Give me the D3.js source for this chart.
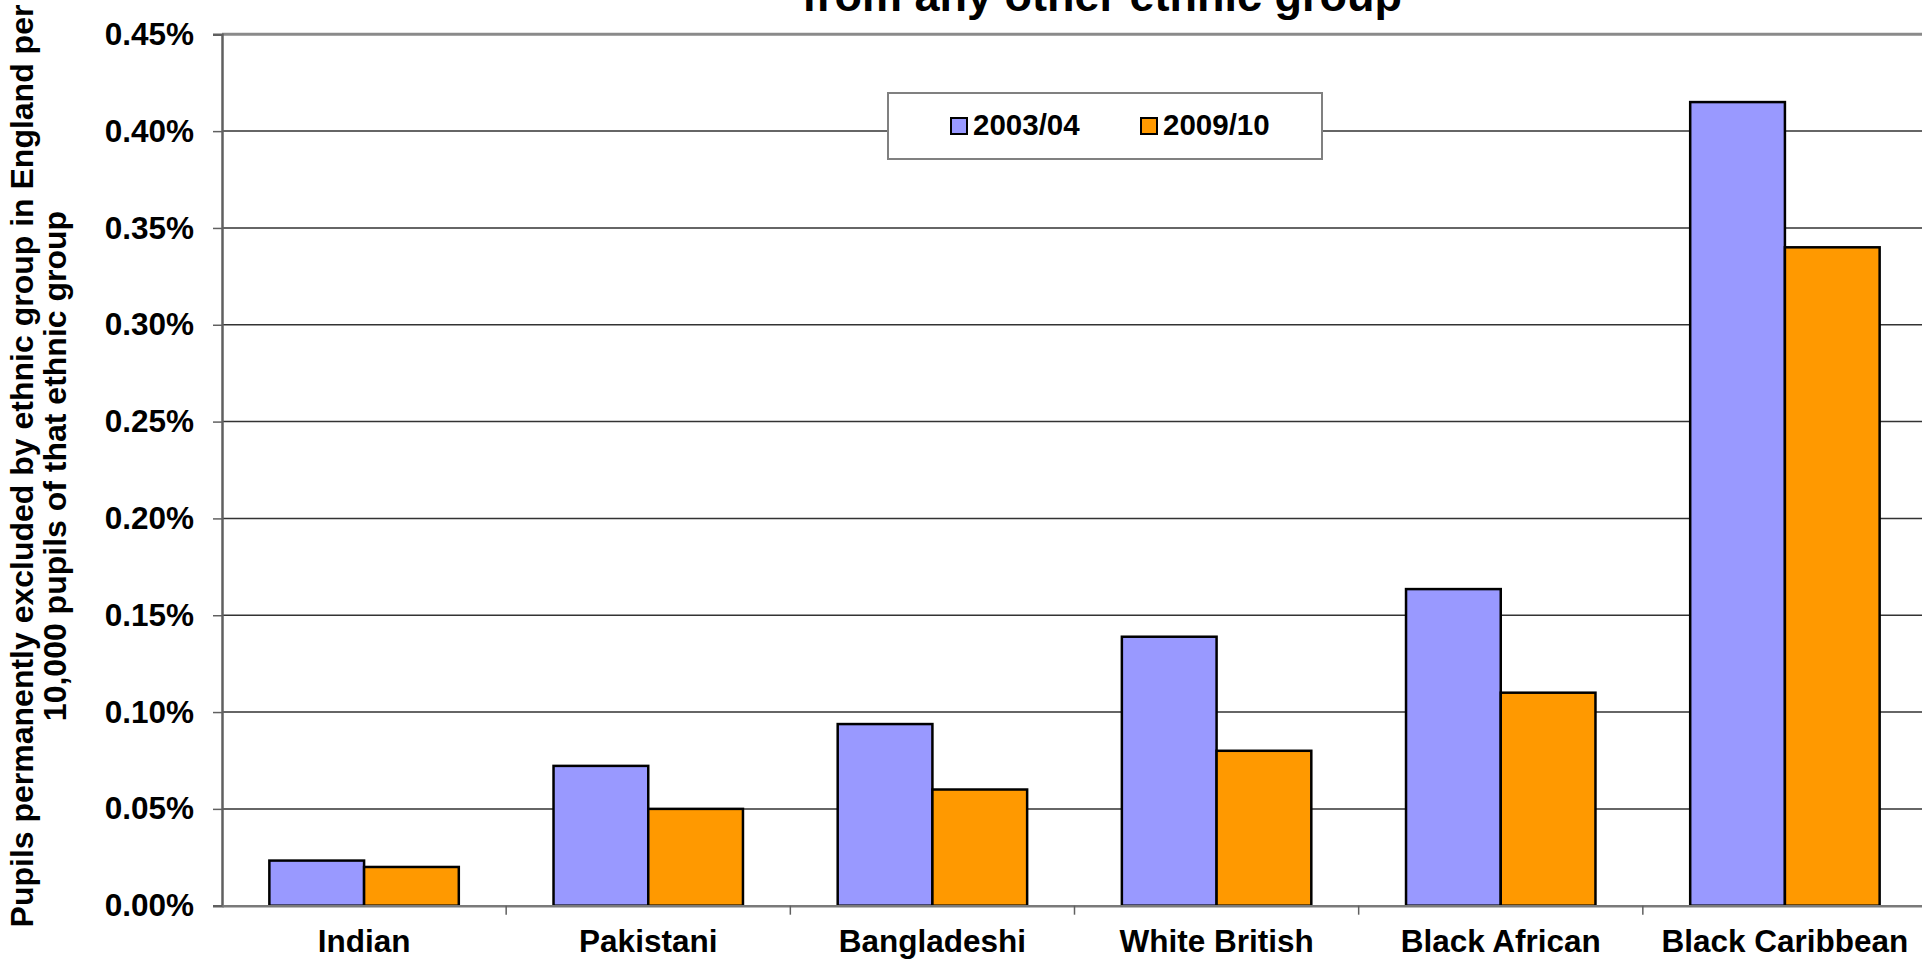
<!DOCTYPE html>
<html>
<head>
<meta charset="utf-8">
<script src="https://cdn.jsdelivr.net/npm/d3@7"></script>
<style>
  html, body { margin: 0; padding: 0; background: #fff; overflow: hidden; }
  svg { display: block; font-family: "Liberation Sans", Arial, sans-serif; font-weight: bold; }
</style>
</head>
<body>
<svg id="chart" width="1922" height="960"></svg>
<script>
// Data (rates as fractions, shown as %)
const categories = ["Indian", "Pakistani", "Bangladeshi", "White British", "Black African", "Black Caribbean"];
const seriesNames = ["2003/04", "2009/10"];
const values2003 = [0.000233, 0.000722, 0.000938, 0.001389, 0.001635, 0.004150];
const values2009 = [0.000200, 0.000500, 0.000600, 0.000800, 0.001100, 0.003400];
const yTicks = [0, 0.0005, 0.001, 0.0015, 0.002, 0.0025, 0.003, 0.0035, 0.004, 0.0045];
const seriesColors = ["#9999FF", "#FF9900"];

const titleText = "from any other ethnic group";
const yTitleLines = [
    "Pupils permanently excluded by ethnic group in England per",
    "10,000 pupils of that ethnic group"
];

// Plot area (extends a little past the right edge, as in the reference)
const plot = { left: 222, right: 1927, top: 34.3, bottom: 905.7 };

const svg = d3.select("#chart");

const x0 = d3.scaleBand()
    .domain(categories)
    .range([plot.left, plot.right])
    .paddingInner(0)
    .paddingOuter(0);

const x1 = d3.scaleBand()
    .domain(seriesNames)
    .range([0, x0.bandwidth()])
    .paddingInner(0)
    .paddingOuter(0.5);

const y = d3.scaleLinear()
    .domain([0, 0.0045])
    .range([plot.bottom, plot.top]);

const color = d3.scaleOrdinal().domain(seriesNames).range(seriesColors);
const pct = d3.format(".2%");

/* ------- GRIDLINES ------- */
svg.append("g")
    .attr("class", "grid")
    .selectAll("line")
    .data(yTicks.slice(1, -1))
    .join("line")
    .attr("x1", plot.left)
    .attr("x2", plot.right)
    .attr("y1", d => y(d))
    .attr("y2", d => y(d))
    .attr("stroke", "#333")
    .attr("stroke-width", 1.5);

// top border of the plot area
svg.append("line")
    .attr("x1", plot.left).attr("x2", plot.right)
    .attr("y1", y(0.0045)).attr("y2", y(0.0045))
    .attr("stroke", "#8a8a8a")
    .attr("stroke-width", 3);

/* ------- BARS ------- */
const rows = categories.map((c, i) => ({
    category: c,
    values: [
        { series: seriesNames[0], value: values2003[i] },
        { series: seriesNames[1], value: values2009[i] }
    ]
}));

svg.append("g")
    .selectAll("g")
    .data(rows)
    .join("g")
    .attr("transform", d => "translate(" + x0(d.category) + ",0)")
    .selectAll("rect")
    .data(d => d.values)
    .join("rect")
    .attr("x", d => x1(d.series))
    .attr("width", x1.bandwidth())
    .attr("y", d => y(d.value))
    .attr("height", d => y(0) - y(d.value))
    .attr("fill", d => color(d.series))
    .attr("stroke", "#000")
    .attr("stroke-width", 2.5);

/* ------- AXES ------- */
const yAxis = d3.axisLeft(y)
    .tickValues(yTicks)
    .tickFormat(pct)
    .tickSize(9)
    .tickPadding(19);

const gy = svg.append("g")
    .attr("transform", "translate(" + plot.left + ",0)")
    .call(yAxis);
gy.select(".domain").attr("stroke", "#606060").attr("stroke-width", 2.5);
gy.selectAll(".tick line").attr("stroke", "#606060").attr("stroke-width", 1.5);
gy.selectAll(".tick text")
    .attr("font-size", 31.5)
    .attr("font-weight", "bold")
    .attr("fill", "#000")
    .attr("font-family", "'Liberation Sans', Arial, sans-serif");

const xAxis = d3.axisBottom(x0).tickSize(0).tickPadding(24);
const gx = svg.append("g")
    .attr("transform", "translate(0," + plot.bottom + ")")
    .call(xAxis);
gx.select(".domain").attr("stroke", "#7a7a7a").attr("stroke-width", 2.5);
gx.selectAll(".tick text")
    .attr("font-size", 31.5)
    .attr("font-weight", "bold")
    .attr("fill", "#000")
    .attr("dy", "0.71em")
    .attr("font-family", "'Liberation Sans', Arial, sans-serif");

// category separator ticks sit on band boundaries
gx.append("g")
    .selectAll("line")
    .data(categories.slice(1))
    .join("line")
    .attr("x1", d => x0(d))
    .attr("x2", d => x0(d))
    .attr("y1", 0)
    .attr("y2", 9)
    .attr("stroke", "#606060")
    .attr("stroke-width", 1.5);

/* ------- TITLE ------- */
svg.append("text")
    .attr("x", 1102)
    .attr("y", 11)
    .attr("text-anchor", "middle")
    .attr("font-size", 45)
    .text(titleText);

/* ------- Y AXIS TITLE ------- */
const yTitle = svg.append("text")
    .attr("transform", "translate(0,466) rotate(-90)")
    .attr("text-anchor", "middle")
    .attr("font-size", 32);
yTitle.selectAll("tspan")
    .data(yTitleLines)
    .join("tspan")
    .attr("x", 0)
    .attr("y", (d, i) => 33 + i * 33)
    .text(d => d);

/* ------- LEGEND ------- */
const legend = svg.append("g").attr("transform", "translate(888,93)");
legend.append("rect")
    .attr("width", 434)
    .attr("height", 66)
    .attr("fill", "#fff")
    .attr("stroke", "#808080")
    .attr("stroke-width", 2);

const item = legend.selectAll("g.item")
    .data(seriesNames)
    .join("g")
    .attr("class", "item")
    .attr("transform", (d, i) => "translate(" + (63 + i * 190) + ",25)");
item.append("rect")
    .attr("width", 16)
    .attr("height", 16)
    .attr("fill", d => color(d))
    .attr("stroke", "#000")
    .attr("stroke-width", 2);
item.append("text")
    .attr("x", 22)
    .attr("y", 17)
    .attr("font-size", 29.5)
    .text(d => d);
</script>
</body>
</html>
